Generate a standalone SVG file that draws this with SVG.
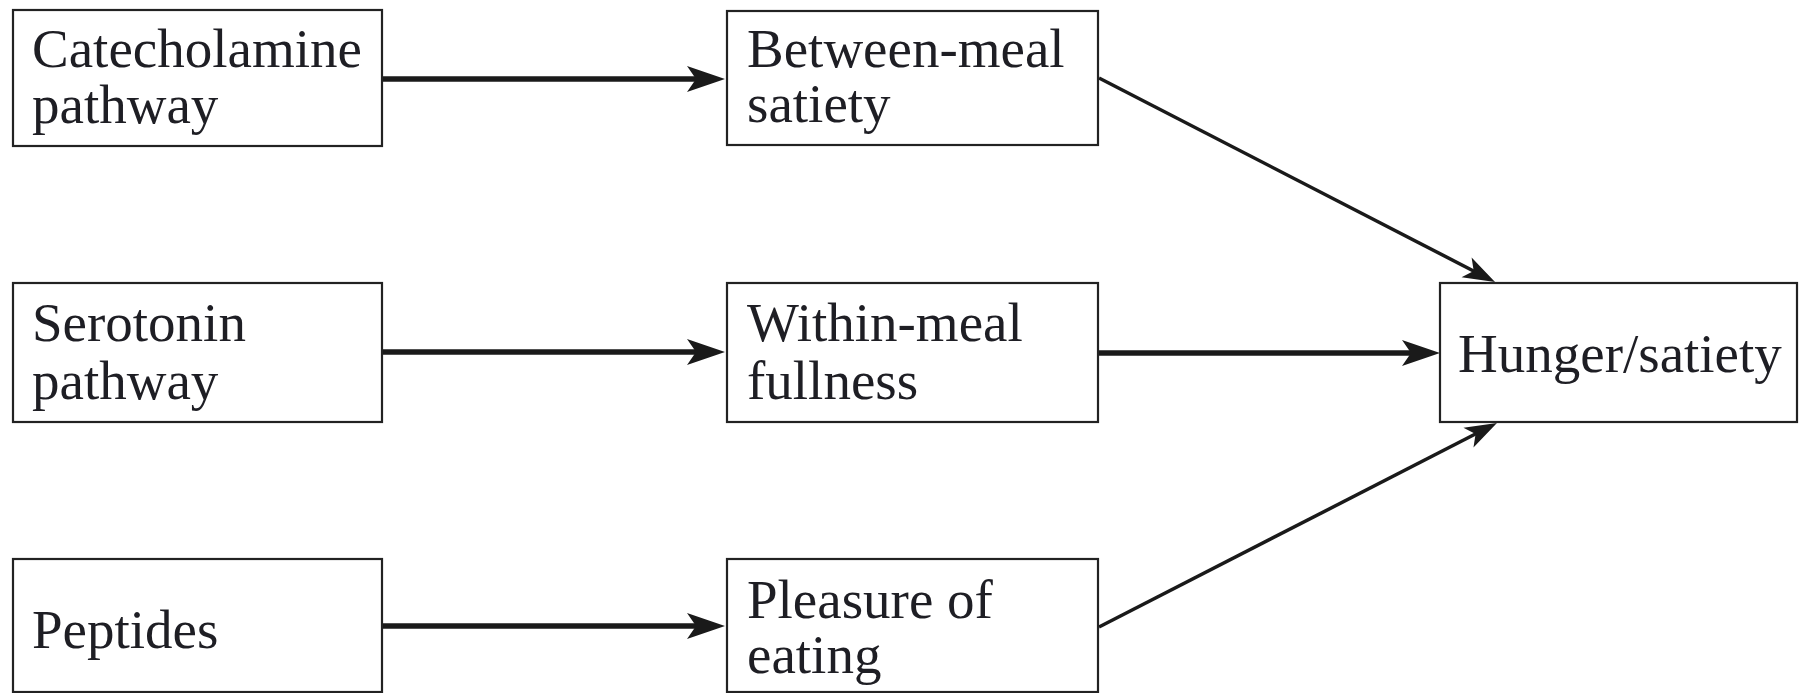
<svg xmlns="http://www.w3.org/2000/svg" width="1799" height="693" viewBox="0 0 1799 693">
<style>
.box{fill:#fff;stroke:#222;stroke-width:2.2}
.lbl{font-family:"Liberation Serif","DejaVu Serif",serif;font-size:55px;fill:#1e1e24}
.thick{stroke:#1a1a1a;stroke-width:5.5;fill:none}
.thin{stroke:#1a1a1a;stroke-width:3.5;fill:none}
</style>
<defs>
<marker id="ah" viewBox="-20 -15 42 30" markerWidth="42" markerHeight="30" refX="0" refY="0" orient="auto" markerUnits="userSpaceOnUse">
<path d="M20,0 L-18,-13 L-9,0 L-18,13 Z" fill="#1a1a1a"/>
</marker>
<marker id="ahs" viewBox="-20 -14 38 28" markerWidth="38" markerHeight="28" refX="0" refY="0" orient="auto" markerUnits="userSpaceOnUse">
<path d="M16,0 L-16,-11 L-8,0 L-16,11 Z" fill="#1a1a1a"/>
</marker>
</defs>
<rect width="1799" height="693" fill="#fff"/>
<g id="connectors">
<line class="thick" x1="383" y1="79" x2="705" y2="79" marker-end="url(#ah)"/>
<line class="thick" x1="383" y1="352" x2="705" y2="352" marker-end="url(#ah)"/>
<line class="thick" x1="383" y1="626" x2="705" y2="626" marker-end="url(#ah)"/>
<line class="thick" x1="1099" y1="353" x2="1420" y2="353" marker-end="url(#ah)"/>
<line class="thin" x1="1099" y1="78" x2="1480.8" y2="274.7" marker-end="url(#ahs)"/>
<line class="thin" x1="1099" y1="627" x2="1482.7" y2="430.3" marker-end="url(#ahs)"/>
</g>
<g id="catecholamine">
<rect class="box" x="13" y="10" width="369" height="136"/>
<text class="lbl" x="32" y="67">Catecholamine</text>
<text class="lbl" x="32" y="123">pathway</text>
</g>
<g id="serotonin">
<rect class="box" x="13" y="283" width="369" height="139"/>
<text class="lbl" x="32" y="341">Serotonin</text>
<text class="lbl" x="32" y="399">pathway</text>
</g>
<g id="peptides">
<rect class="box" x="13" y="559" width="369" height="133"/>
<text class="lbl" x="32" y="648">Peptides</text>
</g>
<g id="between-meal">
<rect class="box" x="727" y="11" width="371" height="134"/>
<text class="lbl" x="747" y="67">Between-meal</text>
<text class="lbl" x="747" y="122">satiety</text>
</g>
<g id="within-meal">
<rect class="box" x="727" y="283" width="371" height="139"/>
<text class="lbl" x="747" y="341">Within-meal</text>
<text class="lbl" x="747" y="399">fullness</text>
</g>
<g id="pleasure">
<rect class="box" x="727" y="559" width="371" height="133"/>
<text class="lbl" x="747" y="618">Pleasure of</text>
<text class="lbl" x="747" y="673">eating</text>
</g>
<g id="hunger">
<rect class="box" x="1440" y="283" width="357" height="139"/>
<text class="lbl" x="1458" y="372">Hunger/satiety</text>
</g>
</svg>
